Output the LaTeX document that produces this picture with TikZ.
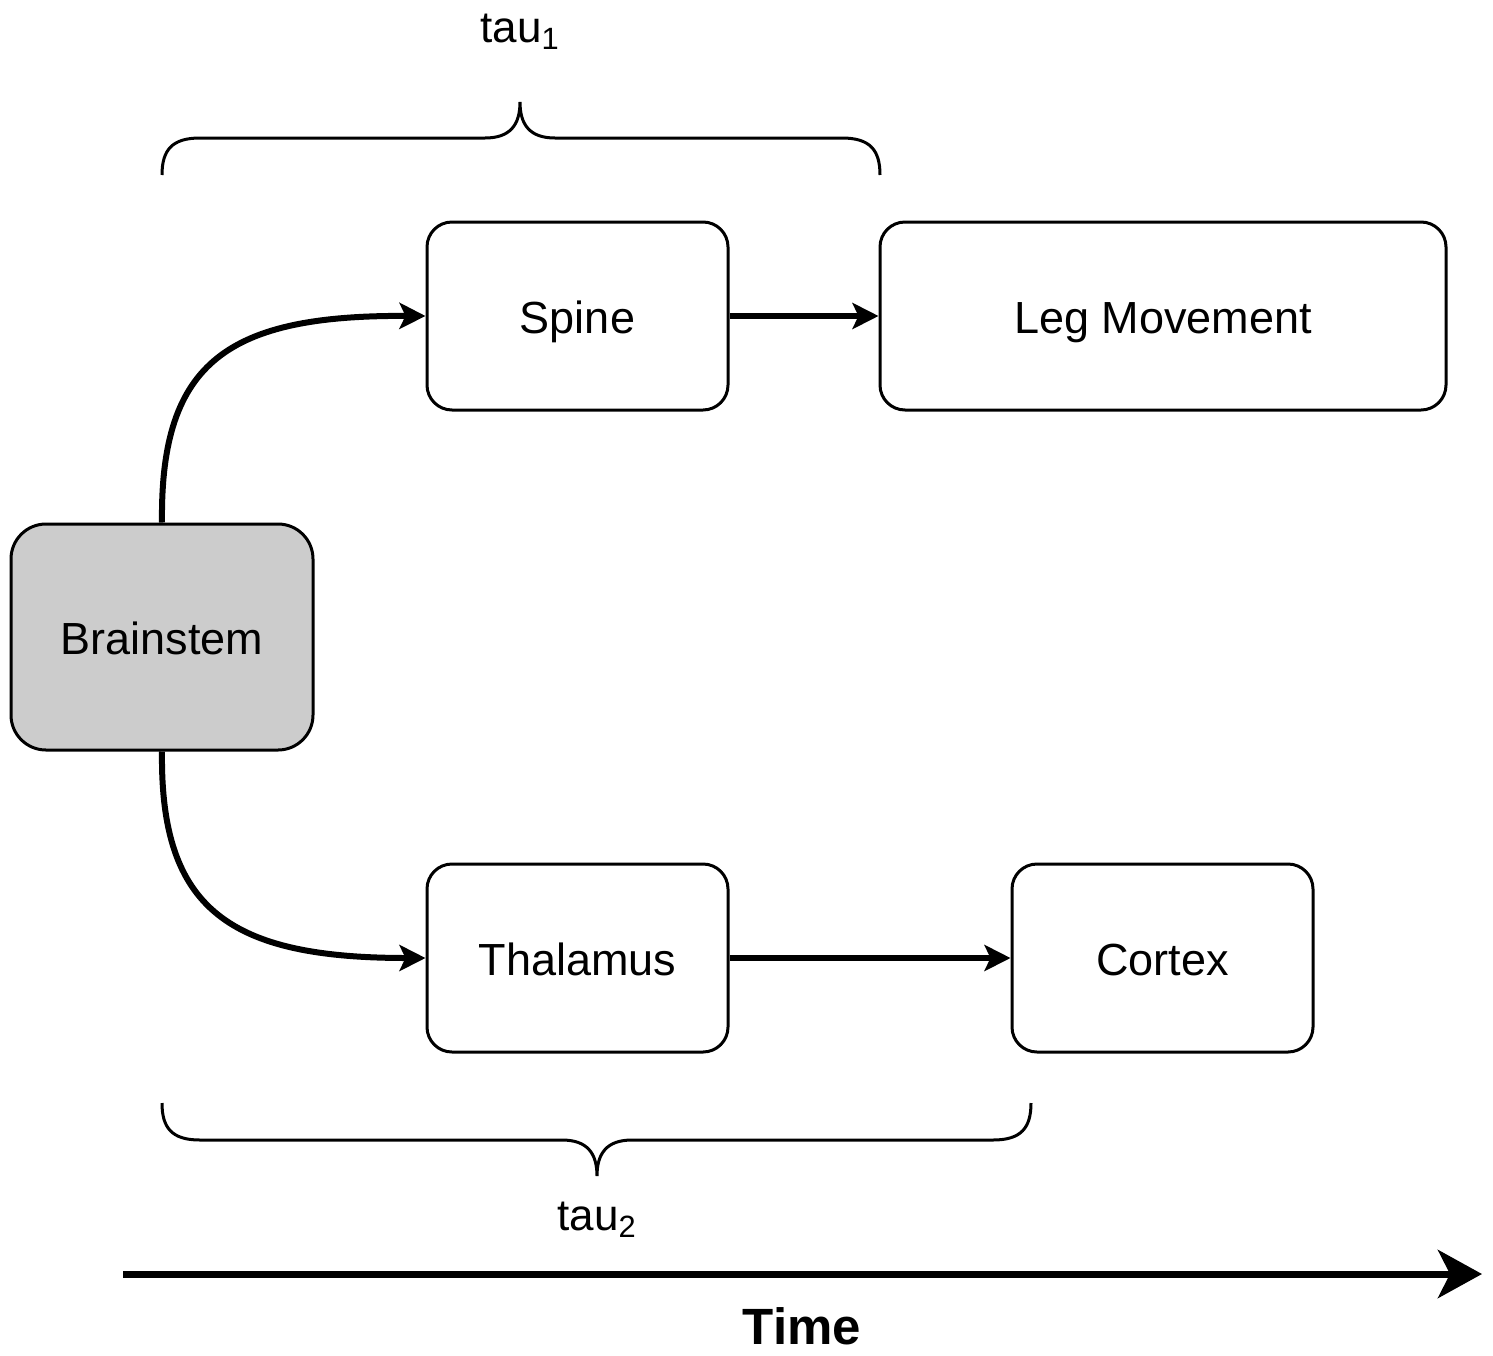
\documentclass[tikz,border=0pt]{standalone}
\usepackage{fontspec}
\setmainfont{Liberation Sans}
\usetikzlibrary{arrows.meta}
\begin{document}
\begin{tikzpicture}[x=0.5pt,y=-0.5pt,
  box/.style={draw=black,line width=1.5pt,rounded corners=12.5pt,minimum width=150.5pt,minimum height=94pt,align=center,inner sep=0pt,text height=17pt,text depth=0pt,font=\fontsize{22.5}{27}\selectfont},
  conn/.style={line width=3pt,-{Stealth[length=13pt,width=13pt,inset=3pt]}},
  brace/.style={line width=1.5pt},
  lbl/.style={font=\fontsize{22}{26}\selectfont,inner sep=0pt}]
\useasboundingbox (0,0) rectangle (1493,1355);
\node[box] (spine) at (577.5,316) {Spine};
\node[box,minimum width=283pt] (leg) at (1163,316) {Leg Movement};
\node[box,fill={rgb,255:red,204;green,204;blue,204},minimum width=151pt,minimum height=113pt,rounded corners=17.5pt] (bs) at (162,637) {Brainstem};
\node[box] (thal) at (577.5,958) {Thalamus};
\node[box] (ctx) at (1162.5,958) {Cortex};
\draw[conn] (bs.north) .. controls (160,360) and (230,315) .. (spine.west);
\draw[conn] (bs.south) .. controls (160,910) and (230,958) .. (thal.west);
\draw[conn] (spine.east) -- (leg.west);
\draw[conn] (thal.east) -- (ctx.west);
% braces
\draw[brace] (162,175) .. controls (162,150) and (172,138) .. (200,138) -- (485,138) .. controls (510,138) and (520,125) .. (520,102) .. controls (520,125) and (530,138) .. (555,138) -- (842,138) .. controls (870,138) and (880,150) .. (880,175);
\draw[brace] (162,1103) .. controls (162,1128) and (172,1140) .. (200,1140) -- (562,1140) .. controls (587,1140) and (597,1153) .. (597,1176) .. controls (597,1153) and (607,1140) .. (632,1140) -- (993,1140) .. controls (1021,1140) and (1031,1128) .. (1031,1103);
\node[lbl] (t1) at (520,32) {tau\textsubscript{1}};
\node[lbl] (t2) at (597,1220) {tau\textsubscript{2}};
\coordinate (ta) at (123,1274);
\coordinate (tb) at (1482,1274);
\draw[line width=3.5pt,-{Stealth[length=22pt,width=24pt,inset=6pt]}] (ta) -- (tb);
\node[font=\fontsize{25.5}{30}\selectfont\bfseries,inner sep=0pt] (time) at (802,1326) {Time};
\end{tikzpicture}
\end{document}
